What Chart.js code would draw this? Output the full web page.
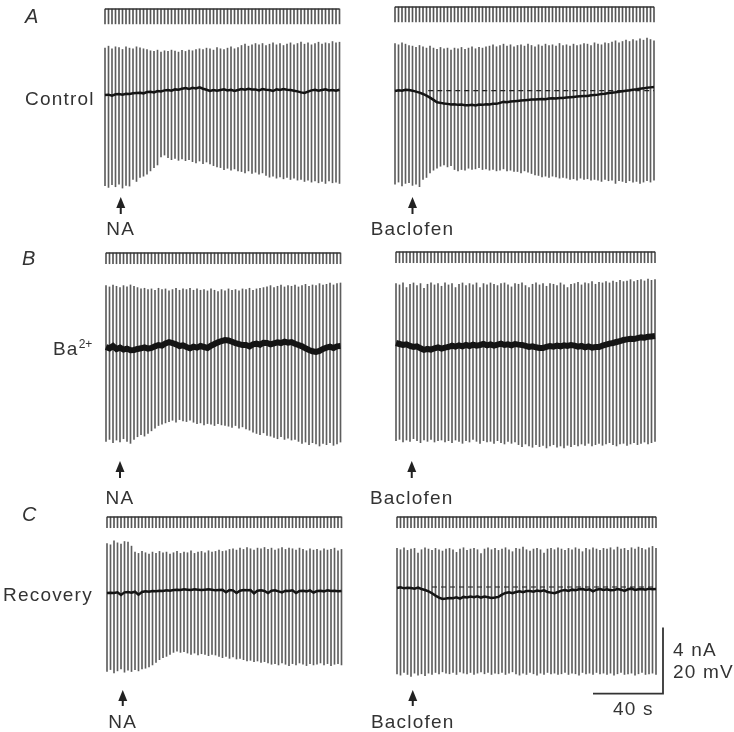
<!DOCTYPE html>
<html>
<head>
<meta charset="utf-8">
<script src="https://cdn.jsdelivr.net/npm/chart.js@4.4.1/dist/chart.umd.min.js"></script>
<style>
body { margin: 0; background: #fff; }
#fig { position: relative; width: 734px; height: 732px; overflow: hidden;
       font-family: "Liberation Sans", Arial, sans-serif; color: #333; }
#fig canvas { position: absolute; left: 0; top: 0; }
.lbl { position: absolute; font-size: 19px; letter-spacing: 1.2px; line-height: 1;
       white-space: nowrap; transform: translateY(-50%); }
.lbl.mid { transform: translate(-50%, -50%); }
.ltr { font-style: italic; font-size: 20px; letter-spacing: 0; }
sup { font-size: 12px; letter-spacing: 0; vertical-align: 7px; }
</style>
</head>
<body>
<div id="fig">
  <canvas id="aL" width="734" height="732"></canvas>
  <canvas id="aR" width="734" height="732"></canvas>
  <canvas id="bL" width="734" height="732"></canvas>
  <canvas id="bR" width="734" height="732"></canvas>
  <canvas id="cL" width="734" height="732"></canvas>
  <canvas id="cR" width="734" height="732"></canvas>

  <div class="lbl ltr" style="left:25px;top:16px">A</div>
  <div class="lbl" style="left:25px;top:98px">Control</div>
  <div class="lbl ltr" style="left:22px;top:258px">B</div>
  <div class="lbl" style="left:53px;top:348px">Ba<sup>2+</sup></div>
  <div class="lbl ltr" style="left:22px;top:514px">C</div>
  <div class="lbl" style="left:3px;top:594px">Recovery</div>

  <div class="lbl mid" id="drug-aL" style="top:228px">NA</div>
  <div class="lbl mid" id="drug-aR" style="top:228px">Baclofen</div>
  <div class="lbl mid" id="drug-bL" style="top:497px">NA</div>
  <div class="lbl mid" id="drug-bR" style="top:497px">Baclofen</div>
  <div class="lbl mid" id="drug-cL" style="top:721px">NA</div>
  <div class="lbl mid" id="drug-cR" style="top:721px">Baclofen</div>

  <div class="lbl" style="left:673px;top:649px">4 nA</div>
  <div class="lbl" style="left:673px;top:671px">20 mV</div>
  <div class="lbl" style="left:613px;top:708px">40 s</div>
</div>

<script>
// pulse times (s), one hyperpolarising pulse every 2 s
const leftTimes = [0,2,4,6,8,10,12,14,16,18,20,22,24,26,28,30,32,34,36,38,40,42,44,46,48,50,52,54,56,58,
  60,62,64,66,68,70,72,74,76,78,80,82,84,86,88,90,92,94,96,98,100,102,104,106,108,110,112,114,116,118,
  120,122,124,126,128,130,132,134];
const rightTimes = [0,2,4,6,8,10,12,14,16,18,20,22,24,26,28,30,32,34,36,38,40,42,44,46,48,50,52,54,56,58,
  60,62,64,66,68,70,72,74,76,78,80,82,84,86,88,90,92,94,96,98,100,102,104,106,108,110,112,114,116,118,
  120,122,124,126,128,130,132,134,136,138,140,142,144,146,148];

// A, Control + NA  (mV relative to resting level)
const aLTop = [14.2,14.8,14.0,14.6,14.4,13.8,14.6,14.2,14.0,14.6,14.3,14.0,13.8,
  13.4,13.2,13.6,13.0,13.4,13.2,13.6,13.3,13.0,13.5,13.2,13.6,13.4,13.8,
  14.0,13.8,14.2,14.0,13.6,14.4,14.0,13.8,14.2,14.6,14.0,14.4,
  15.0,15.4,14.8,15.2,15.6,
  15.2,15.6,15.0,15.4,15.8,15.2,15.6,15.0,15.4,15.8,15.2,15.6,16.0,15.4,15.8,15.2,15.6,16.0,15.4,15.8,15.6,16.2,15.8,16.0];
const aLBase = [0.0,0.1,-0.2,0.2,0.3,0.1,0.4,0.3,0.5,0.6,
  0.7,0.5,0.9,1.0,0.8,1.2,1.1,1.4,1.5,1.3,
  1.7,1.6,1.9,2.1,1.8,2.2,2.0,2.3,1.9,1.6,
  1.2,1.5,1.3,1.5,1.7,1.4,1.6,1.2,1.5,1.8,
  1.6,1.9,1.7,1.7,1.4,1.8,1.6,1.5,1.2,1.7,
  1.5,1.8,1.6,1.5,1.3,1.1,0.8,0.6,1.0,1.4,
  1.6,1.3,1.5,1.7,1.4,1.5,1.3,1.6];
const aLBot = [-27.5,-28.0,-27.2,-27.8,-27.0,-28.2,-27.4,-27.6,
  -25.6,-26.2,-25.0, -24.6,-24.0, -23.0,-22.0,-21.2, -18.8,-18.2,
  -19.0,-19.6,-19.2,-19.8,-19.4,-19.9,-19.6,
  -20.2,-20.6,-20.0,-20.8,-20.3,-20.9, -21.4,-21.8,
  -22.0,-22.6,-22.2,-22.8,-22.4,-23.0,
  -23.2,-23.6,-23.0,-23.8,-23.4,-24.0,-23.6,
  -24.4,-24.9,-24.6,-25.2,-24.8,-25.4,-25.0,-25.6,-25.2,-25.8,
  -25.6,-26.2,-25.8,-26.4,-26.0,-26.6,-26.2,-26.8,-26.0,-26.6,-26.4,-26.8];

// A, Control + baclofen
const aRTop = [14.4,14.0,14.6,14.2,13.8,
  13.6,13.2,13.8,13.4,13.0,13.6,
  13.0,12.6,13.2,12.8,13.0,12.4,13.0,12.8,13.2,12.6,13.0,13.4,12.8,13.2,13.0,13.4,
  13.6,14.0,13.4,13.8,14.2,13.6,14.0,13.4,13.8,14.0,13.6,14.2,13.8,13.4,14.0,13.6,14.2,13.8,14.0,13.6,14.4,13.8,14.0,13.6,14.2,13.8,
  14.0,14.4,14.2,13.8,14.6,14.2,14.0,14.6,14.4,
  14.8,15.2,14.6,15.0,15.4,15.0,15.6,15.2,15.8,15.4,16.0,15.6,15.2];
const aRBase = [0.0,0.2,0.1,0.4,0.3,0.1,-0.2,-0.5,-0.9,-1.4,
  -2.0,-2.7,-3.4,-3.6,-3.8,-3.9,-4.1,-4.0,-4.2,-4.1,
  -4.3,-4.3,-4.2,-4.4,-4.1,-4.2,-4.0,-4.1,-3.9,-3.9,
  -3.6,-3.3,-3.4,-3.2,-3.1,-3.0,-2.9,-2.8,-2.7,-2.6,
  -2.6,-2.5,-2.4,-2.5,-2.3,-2.2,-2.3,-2.1,-2.1,-2.0,
  -1.9,-1.8,-1.7,-1.6,-1.5,-1.5,-1.3,-1.2,-1.1,-0.9,
  -0.8,-0.6,-0.5,-0.4,-0.2,-0.1,0.1,0.2,0.4,0.5,
  0.7,0.8,1.0,1.1,1.2];
const aRBot = [-28.2,-27.6,-28.8,-28.0,-27.8,-28.6,-28.2,-29.0,
  -26.8,-26.2, -24.8,-24.0,-23.4, -22.8,-22.4,-23.0,-22.6,
  -23.8,-24.2,-23.8,-24.0,
  -23.4,-23.8,-23.6,-23.2,-23.8,-23.6,-24.0,
  -23.8,-24.2,-24.0,-23.6,-24.2,-24.0,-24.4,
  -24.4,-24.8,-24.2,-24.6,-25.0,-25.4,
  -25.6,-26.0,-25.8,-26.2,-25.8,-26.0,-26.4,-26.2,
  -26.4,-26.8,-26.6,-27.0,-26.4,-26.8,-26.6,-27.0,-26.8,
  -27.0,-27.4,-26.8,-27.2,-27.0,-28.0,-27.2,
  -27.4,-27.8,-27.2,-27.6,-27.4,-28.0,-27.6,-27.2,-27.6,-27.0];
const aRRefTimes = [19, 148];
const aRRefLevel = 0.1;

// B, Ba2+ + NA
const bLTop = [18.6,18.2,18.8,18.4,18.0,18.6,18.2,18.8,18.4,18.0,
  17.6,17.8,17.4,17.6,17.2,17.8,17.4,17.6,17.0,17.4,17.8,17.2,17.6,17.4,17.8,17.2,17.6,
  17.2,17.4,17.0,17.6,17.2,16.8,17.4,17.0,17.6,17.2,17.4,17.0,17.6,17.4,17.8,17.2,17.6,17.8,18.0,
  18.2,18.6,18.0,18.4,18.8,18.2,18.6,18.4,18.8,18.2,18.6,19.0,18.4,18.8,18.6,19.2,18.8,19.0,19.4,18.8,19.2,19.4];
const bLBase = [0.0,-0.4,0.3,-0.6,-0.2,-0.8,-0.5,-1.0,-0.9,-0.6,
  -0.4,-0.1,-0.5,-0.3,0.2,0.6,0.4,1.1,1.5,1.2,
  0.8,0.3,0.5,0.0,-0.4,0.1,-0.2,0.3,0.0,-0.3,
  0.4,0.9,1.4,1.8,2.1,2.0,1.6,1.2,0.9,0.6,
  0.6,0.2,0.8,1.0,0.7,1.3,1.2,0.8,1.1,1.4,
  1.2,1.6,1.3,1.5,1.0,0.6,0.2,-0.4,-0.9,-1.3,
  -1.5,-1.2,-0.6,-0.2,0.1,-0.3,0.2,0.3];
const bLBot = [-28.6,-28.0,-29.0,-28.2,-28.8,-27.8,-28.6,-29.2,-28.0,
  -27.2,-26.6,-27.0,-26.2,-25.4,
  -24.6,-23.8,-23.4,-23.0,
  -22.6,-22.2,-22.8,-22.0,-22.4,-22.6,-22.2,
  -22.8,-23.2,-23.0,-23.6,-23.2,-23.4,-23.8,-23.2,-23.6,-23.8,
  -24.0,-24.4,-23.8,-24.6,-24.2,-24.8,-25.2,
  -25.8,-26.2,-26.6,-26.0,-26.8,-27.0,
  -27.4,-27.8,-27.2,-28.0,-27.6,-28.2,-28.0,
  -28.6,-29.2,-28.8,-29.6,-29.0,-29.4,-30.0,-29.2,-29.6,-29.0,-29.8,-29.4,-28.8];

// B, Ba2+ + baclofen
const bRTop = [18.0,17.6,18.2,16.8,17.8,18.2,17.4,18.0,16.6,17.8,18.2,17.6,18.0,17.2,18.2,
  17.6,18.0,16.8,17.8,18.2,17.4,18.0,17.6,18.2,16.8,18.0,17.6,18.2,17.8,17.4,
  18.0,18.2,17.6,17.0,18.0,17.8,18.2,17.4,16.8,17.8,18.2,17.6,18.0,17.2,18.0,
  17.8,17.4,18.2,17.6,16.8,17.8,18.0,18.4,17.6,18.2,18.0,18.6,17.8,18.4,18.2,
  18.6,18.2,18.8,18.4,19.0,18.6,18.8,19.2,18.6,19.0,19.2,18.8,19.4,19.0,19.2];
const bRBase = [0.0,-0.3,-0.6,-0.4,-0.9,-1.2,-1.0,-1.6,-2.1,-1.8,
  -2.0,-1.6,-1.3,-1.7,-1.4,-1.2,-0.8,-1.1,-0.7,-1.0,
  -0.6,-0.9,-0.5,-0.8,-0.6,-0.3,-0.7,-0.4,-0.8,-0.5,
  -0.2,-0.6,-0.4,-0.7,-0.3,-0.5,-0.6,-0.9,-1.2,-1.0,
  -1.3,-1.5,-1.5,-1.2,-0.9,-1.1,-0.8,-1.0,-0.7,-0.9,
  -0.6,-0.8,-1.1,-0.9,-1.3,-1.0,-1.4,-1.2,-1.2,-0.8,
  -0.5,-0.2,0.0,0.3,0.6,0.9,1.1,1.3,1.2,1.5,
  1.7,1.6,1.9,2.0,2.1];
const bRBot = [-29.6,-29.2,-30.0,-29.4,-29.8,-29.0,-29.6,-30.2,-29.4,-29.8,-29.2,-30.0,-29.6,-29.4,-30.0,
  -29.6,-30.2,-29.4,-29.8,-30.4,-29.6,-30.0,-29.2,-29.8,-30.4,-29.6,-30.0,-29.8,-30.4,-29.6,-30.2,-30.6,-29.8,-30.4,-30.0,
  -30.8,-31.4,-30.6,-31.2,-31.6,-30.8,-31.4,-31.0,-31.8,-31.2,-30.8,-31.6,-31.2,-31.8,-31.0,-31.4,-30.8,-31.2,
  -30.6,-31.0,-30.4,-31.2,-30.8,-30.4,-31.0,-30.6,-30.2,-30.8,-31.2,-30.6,-30.4,-31.0,-30.6,-30.2,-30.8,-30.4,-30.0,-30.6,-30.2,-29.8];

// C, Recovery + NA
const cLTop = [15.0,14.6,15.8,15.2,14.8,15.6,15.4,14.2,
  12.4,12.0,12.6,12.2,11.8,12.4,12.0,12.6,12.2,12.4,11.8,12.2,12.6,12.0,12.4,12.2,12.8,12.0,12.4,12.6,12.2,12.8,12.4,12.6,13.0,12.6,12.8,13.2,
  13.4,13.0,13.6,13.2,13.8,13.4,13.0,13.6,13.4,13.8,13.2,13.6,13.0,13.4,13.8,13.2,13.6,13.4,13.0,13.6,
  13.2,12.8,13.4,13.0,13.2,12.8,13.4,13.0,13.2,13.6,12.8,13.2];
const cLBase = [0.0,0.1,0.0,0.2,-0.6,0.2,0.3,0.1,0.4,-0.5,
  0.3,0.5,0.4,0.6,0.5,0.7,0.6,0.8,0.7,0.9,
  1.0,0.9,1.1,1.0,0.9,1.1,1.0,0.9,1.0,1.1,
  1.0,0.8,0.9,1.0,0.2,0.9,0.8,0.0,0.7,0.9,
  0.8,0.9,-0.1,0.7,0.8,0.6,0.0,0.7,0.8,0.5,
  0.2,0.7,0.6,0.8,0.0,0.6,0.7,0.5,0.8,0.1,
  0.6,0.7,0.5,0.8,0.6,0.7,0.5,0.6];
const cLBot = [-23.8,-23.2,-24.2,-23.6,-23.0,-24.0,-23.4,-23.8,-23.2,-23.6,-23.0,-22.8,
  -22.4,-21.8,-21.0, -20.2,-19.6,-19.2,-18.6, -18.0,-17.6,-18.0,-17.8,
  -18.2,-18.6,-18.2,-18.8,-18.4,-18.6,-19.0,-18.6,-18.8,
  -19.2,-19.6,-19.2,-19.8,-19.4,-20.0,-19.8,
  -20.2,-20.6,-20.4,-20.8,-20.6,-21.0,-20.8,
  -21.2,-21.6,-21.4,-21.8,-21.2,-21.6,-22.0,-21.4,-21.8,-21.2,-21.6,-22.0,-21.4,-21.8,-21.6,-21.2,-21.8,-21.4,-22.0,-21.6,-21.4,-21.8];

// C, Recovery + baclofen
const cRTop = [12.0,11.6,12.2,11.4,11.8,12.0,10.6,11.6,12.2,11.8,11.4,12.0,11.6,11.2,11.8,
  12.0,11.6,10.8,11.8,12.2,11.4,11.8,12.0,11.6,10.4,11.8,12.2,11.6,12.0,11.4,
  11.8,12.2,11.6,11.0,12.0,11.8,12.4,11.6,11.2,11.8,12.0,11.6,10.6,11.8,12.0,
  11.6,12.2,11.8,11.4,12.0,11.6,12.2,11.8,11.0,12.0,11.6,12.2,11.8,11.4,12.0,
  11.8,12.2,11.6,12.4,11.8,12.0,11.4,12.2,11.8,12.4,12.0,11.6,12.2,12.6,12.0];
const cRBase = [0.0,0.2,-0.1,0.1,0.0,-0.2,0.1,-0.3,-0.6,-1.0,
  -1.6,-2.3,-2.9,-3.3,-3.2,-3.0,-3.1,-2.8,-3.2,-2.7,
  -2.9,-2.6,-2.8,-2.5,-2.9,-2.6,-2.8,-3.0,-2.9,-2.7,
  -2.0,-1.5,-1.3,-1.6,-1.2,-1.0,-1.3,-0.9,-0.9,-1.1,
  -0.8,-1.0,-0.7,-1.2,-1.4,-1.6,-1.2,-0.8,-0.6,-0.9,
  -0.5,-0.7,-0.4,-0.3,-0.6,-0.4,-1.0,-0.5,-0.3,-0.6,
  -0.4,-0.7,-0.6,-0.3,-0.5,-0.9,-0.4,-0.2,-0.6,-0.4,
  -0.3,-0.5,-0.2,-0.4,-0.3];
const cRBot = [-26.0,-26.4,-25.6,-26.2,-26.8,-25.8,-26.4,-26.0,-26.6,-25.8,-26.2,-25.6,-26.0,-25.4,-25.8,
  -26.0,-25.6,-26.2,-25.4,-25.8,-26.0,-25.6,-26.2,-25.8,-25.4,-26.0,-25.6,-26.2,-25.8,-26.0,
  -25.6,-26.2,-25.8,-25.4,-26.0,-26.4,-25.8,-26.2,-25.6,-26.0,-26.4,-25.8,-26.2,-25.6,-26.0,
  -25.8,-26.2,-26.0,-25.6,-26.2,-25.8,-26.0,-26.4,-25.6,-26.0,-25.8,-26.2,-25.6,-26.0,-25.8,
  -26.2,-25.8,-26.4,-26.0,-25.6,-26.2,-26.0,-25.8,-26.4,-26.0,-25.6,-26.2,-26.0,-25.8,-26.2];
const cRRefTimes = [20, 147];
const cRRefLevel = 0.3;

// injected current step per pulse (nA) and drug application times (s)
const aStepNA = -0.9, bStepNA = -0.65, cStepNA = -0.65;
const drugTimes = { aL: 9, aR: 10, bL: 8, bR: 9, cL: 9, cR: 9 };

// scale bar: 40 s, 20 mV / 4 nA
const barSeconds = 40, barMilliVolts = 20;

// layout: page pixels per unit, and where t = 0, V = 0, I = 0 sit on the page
const PX_PER_S = 1.75, PX_PER_MV = 3.3, PX_PER_NA = 16.5;
const W = 734, H = 732;

const arrowPlugin = {
    id: 'drugArrow',
    afterDatasetsDraw(chart, args, o) {
        const ctx = chart.ctx;
        const xp = chart.scales.x.getPixelForValue(o.t);
        ctx.save();
        ctx.fillStyle = '#222';
        ctx.beginPath();
        ctx.moveTo(xp, o.yTop);
        ctx.lineTo(xp + 4.5, o.yTop + 11);
        ctx.lineTo(xp - 4.5, o.yTop + 11);
        ctx.closePath();
        ctx.fill();
        ctx.fillRect(xp - 1, o.yTop + 10, 2, o.yBot - o.yTop - 10);
        ctx.restore();
    }
};

const scaleBarPlugin = {
    id: 'scaleBar',
    afterDatasetsDraw(chart, args, o) {
        const { x, y } = chart.scales;
        const ctx = chart.ctx;
        const xl = x.getPixelForValue(o.t), xr = x.getPixelForValue(o.t + barSeconds);
        const yb = y.getPixelForValue(o.v), yt = y.getPixelForValue(o.v + barMilliVolts);
        ctx.save();
        ctx.strokeStyle = '#333';
        ctx.lineWidth = 1.8;
        ctx.beginPath();
        ctx.moveTo(xl, yb);
        ctx.lineTo(xr, yb);
        ctx.lineTo(xr, yt);
        ctx.stroke();
        ctx.restore();
    }
};

function tracePanel(id, p) {
    const datasets = [
        {
            type: 'line',
            data: p.times.map((t, i) => ({ x: t, y: p.base[i] })),
            yAxisID: 'y',
            borderColor: '#141414',
            borderWidth: p.baseWidth,
            pointRadius: 0,
            order: 0
        },
        {
            type: 'bar',
            data: p.times.map((t, i) => ({ x: t, y: [p.bot[i], p.top[i]] })),
            yAxisID: 'y',
            backgroundColor: '#5e5e5e',
            barThickness: 1,
            grouped: false,
            order: 2
        },
        {
            type: 'line',
            data: [{ x: p.times[0], y: 0 }, { x: p.times[p.times.length - 1], y: 0 }],
            yAxisID: 'yI',
            borderColor: '#333',
            borderWidth: 1.5,
            pointRadius: 0,
            order: 3
        },
        {
            type: 'bar',
            data: p.times.map(t => ({ x: t, y: [p.step, 0] })),
            yAxisID: 'yI',
            backgroundColor: '#555',
            barThickness: 1,
            grouped: false,
            order: 4
        }
    ];
    if (p.refTimes) {
        datasets.push({
            type: 'line',
            data: p.refTimes.map(t => ({ x: t, y: p.refLevel })),
            yAxisID: 'y',
            borderColor: '#222',
            borderWidth: 1.2,
            borderDash: [5, 4],
            pointRadius: 0,
            order: 1
        });
    }
    const plugins = [arrowPlugin];
    if (p.scaleBar) plugins.push(scaleBarPlugin);

    const chart = new Chart(document.getElementById(id), {
        type: 'bar',
        data: { datasets },
        plugins,
        options: {
            responsive: false,
            animation: false,
            events: [],
            layout: { padding: 0 },
            plugins: {
                legend: { display: false },
                tooltip: { enabled: false },
                drugArrow: { t: drugTimes[id], yTop: p.arrow[0], yBot: p.arrow[1] },
                scaleBar: p.scaleBar || {}
            },
            scales: {
                x: { type: 'linear', display: false, offset: false,
                     min: -p.t0px / PX_PER_S, max: (W - p.t0px) / PX_PER_S },
                y: { type: 'linear', display: false,
                     min: -(H - p.v0px) / PX_PER_MV, max: p.v0px / PX_PER_MV },
                yI: { type: 'linear', display: false,
                      min: -(H - p.i0px) / PX_PER_NA, max: p.i0px / PX_PER_NA }
            }
        }
    });

    const lbl = document.getElementById('drug-' + id);
    lbl.style.left = chart.scales.x.getPixelForValue(drugTimes[id]) + 'px';
    return chart;
}

tracePanel('aL', { times: leftTimes, top: aLTop, bot: aLBot, base: aLBase, step: aStepNA,
    baseWidth: 2.5, t0px: 105, v0px: 95, i0px: 9, arrow: [197, 214] });
tracePanel('aR', { times: rightTimes, top: aRTop, bot: aRBot, base: aRBase, step: aStepNA,
    baseWidth: 2.5, t0px: 395, v0px: 91, i0px: 7, arrow: [197, 214],
    refTimes: aRRefTimes, refLevel: aRRefLevel });
tracePanel('bL', { times: leftTimes, top: bLTop, bot: bLBot, base: bLBase, step: bStepNA,
    baseWidth: 6, t0px: 106, v0px: 347, i0px: 253, arrow: [461, 478] });
tracePanel('bR', { times: rightTimes, top: bRTop, bot: bRBot, base: bRBase, step: bStepNA,
    baseWidth: 6, t0px: 396, v0px: 343, i0px: 252, arrow: [461, 478] });
tracePanel('cL', { times: leftTimes, top: cLTop, bot: cLBot, base: cLBase, step: cStepNA,
    baseWidth: 2.5, t0px: 107, v0px: 593, i0px: 517, arrow: [690, 706] });
tracePanel('cR', { times: rightTimes, top: cRTop, bot: cRBot, base: cRBase, step: cStepNA,
    baseWidth: 2.5, t0px: 397, v0px: 588, i0px: 517, arrow: [690, 706],
    refTimes: cRRefTimes, refLevel: cRRefLevel, scaleBar: { t: 112, v: -32 } });
</script>
</body>
</html>
